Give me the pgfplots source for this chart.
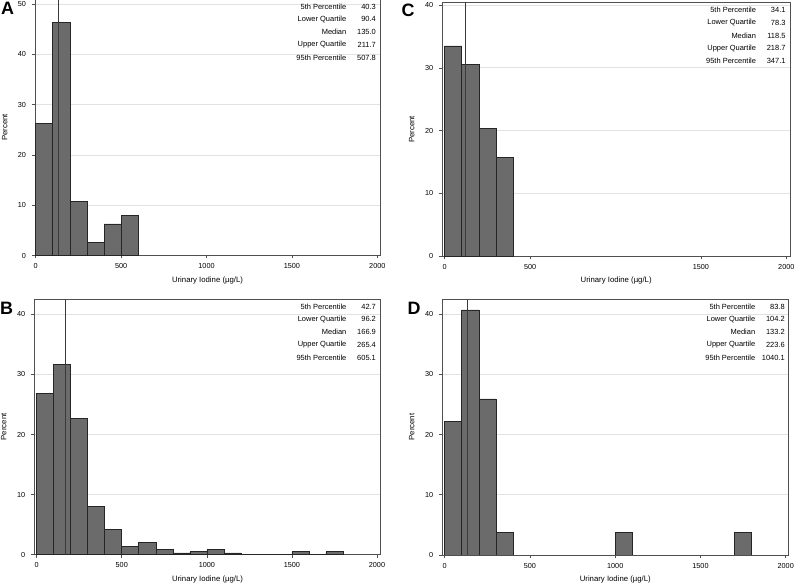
\documentclass[border=0pt]{standalone}
\usepackage{pgfplots}
\pgfplotsset{compat=1.18}
\usepackage{fontspec}
\setmainfont{Liberation Sans}
\definecolor{barfill}{HTML}{6B6B6B}
\definecolor{baredge}{HTML}{262626}
\definecolor{framec}{HTML}{505050}
\definecolor{gridc}{HTML}{E2E2E2}
\definecolor{medc}{HTML}{3A3A3A}
\newcommand{\statfont}{\fontsize{7.5}{8}\selectfont}
\newcommand{\statrow}[4]{% yshift, label, value, right offset of value
  \node[anchor=east, inner sep=0pt, font=\statfont, xshift=-#4bp-29.5bp, yshift=#1] at (rel axis cs:1,1) {#2};
  \node[anchor=east, inner sep=0pt, font=\statfont, xshift=-#4bp, yshift=#1] at (rel axis cs:1,1) {#3};
}
\newcommand{\stats}[6]{%
  \statrow{-7.7bp}{5th Percentile}{#1}{#6}
  \statrow{-20.4bp}{Lower Quartile}{#2}{#6}
  \statrow{-33.1bp}{Median}{#3}{#6}
  \statrow{-45.8bp}{Upper Quartile}{#4}{#6}
  \statrow{-58.5bp}{95th Percentile}{#5}{#6}
}
\begin{document}
\begin{tikzpicture}
\path[use as bounding box] (0bp,0bp) rectangle (796bp,586bp);
\pgfplotsset{
  hist/.style={
    scale only axis, anchor=south west,
    axis line style={draw=framec, line width=0.8bp},
    tick pos=left, tick align=outside, major tick length=3bp,
    tick style={draw=framec, line width=0.6bp},
    ymajorgrids, grid style={draw=gridc, line width=0.7bp},
    ymin=0, ytick distance=10,
    xtick={0,500,1000,1500,2000},
    ticklabel style={font=\fontsize{7.3}{8}\selectfont, text=black},
    yticklabel style={xshift=-2.5bp},
    xticklabel style={yshift=-1.5bp},
    /pgf/number format/assume math mode=true,
    /pgf/number format/1000 sep={},
    xlabel={Urinary Iodine (µg/L)},
    ylabel={Percent},
    label style={font=\fontsize{7.8}{9}\selectfont},
    xlabel style={at={(axis description cs:0.5,-0.097)}, anchor=center},
    ylabel style={at={(axis description cs:-0.088,0.5)}, anchor=center},
  },
  bars/.style={ybar interval, fill=barfill, draw=baredge, line width=0.6bp},
  med/.style={draw=medc, line width=0.7bp},
}
% Panel A
\begin{axis}[hist, at={(35bp,330.5bp)}, width=345bp, height=256.5bp,
  xmin=-4.1, xmax=2015.8, ymax=51.0]
\addplot[bars] coordinates {(0,26.3) (100,46.3) (200,10.7) (300,2.6) (400,6.3) (500,8.0) (600,0)};
\addplot[med] coordinates {(135,0) (135,51.0)};
\stats{40.3}{90.4}{135.0}{211.7}{507.8}{4}
\end{axis}
% Panel C
\begin{axis}[hist, at={(442.3bp,329.7bp)}, width=347.7bp, height=253.8bp,
  xmin=-14.05, xmax=2021.7, ymax=40.4, xtick={0,500,1500,2000}]
\addplot[bars] coordinates {(0,33.5) (100,30.5) (200,20.3) (300,15.7) (400,0)};
\addplot[med] coordinates {(118.5,0) (118.5,40.4)};
\stats{34.1}{78.3}{118.5}{218.7}{347.1}{4.3}
\end{axis}
% Panel B
\begin{axis}[hist, at={(34.3bp,31.3bp)}, width=346.4bp, height=255.7bp,
  xmin=-14.1, xmax=2021.8, ymax=42.55]
\addplot[bars] coordinates {(0,26.8) (100,31.6) (200,22.7) (300,8.1) (400,4.2) (500,1.4) (600,2.0) (700,0.9) (800,0.3) (900,0.5) (1000,0.9) (1100,0.3) (1200,0) (1300,0) (1400,0) (1500,0.5) (1600,0) (1700,0.5) (1800,0)};
\addplot[med] coordinates {(166.9,0) (166.9,42.55)};
\stats{42.7}{96.2}{166.9}{265.4}{605.1}{4.6}
\end{axis}
% Panel D
\begin{axis}[hist, at={(442.3bp,31bp)}, width=346bp, height=256bp,
  xmin=-14.1, xmax=2015.2, ymax=42.5]
\addplot[bars] coordinates {(0,22.2) (100,40.7) (200,25.9) (300,3.7) (400,0) (500,0) (600,0) (700,0) (800,0) (900,0) (1000,3.7) (1100,0) (1200,0) (1300,0) (1400,0) (1500,0) (1600,0) (1700,3.7) (1800,0)};
\addplot[med] coordinates {(133.2,0) (133.2,42.5)};
\stats{83.8}{104.2}{133.2}{223.6}{1040.1}{3.4}
\end{axis}
% Panel letters
\node[font=\fontsize{18}{18}\bfseries] at (7.5bp,577.5bp) {A};
\node[font=\fontsize{18}{18}\bfseries] at (408bp,576bp) {C};
\node[font=\fontsize{18}{18}\bfseries] at (6.7bp,278bp) {B};
\node[font=\fontsize{18}{18}\bfseries] at (414bp,278bp) {D};
\end{tikzpicture}
\end{document}
